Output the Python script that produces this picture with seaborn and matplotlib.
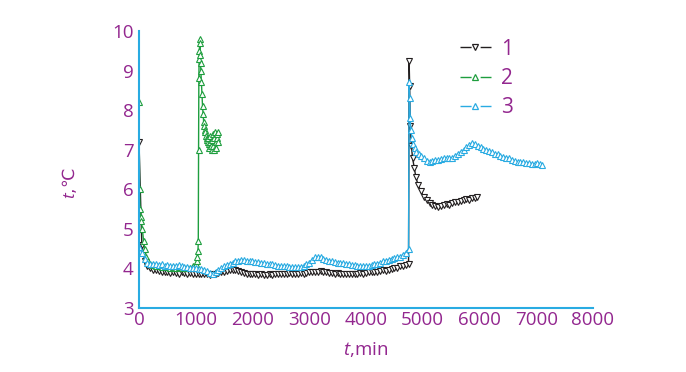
import numpy as np
import pandas as pd
import matplotlib
matplotlib.use("Agg")
import matplotlib.pyplot as plt
import seaborn as sns
from matplotlib.lines import Line2D

# --------------------------------------------------------------------
# DATA
# --------------------------------------------------------------------
STEP = 50  # logging interval, min

# series 1 (black): flat part 0..4750 every 50 min
s1_flat = [7.2, 4.6, 4.2, 4.05, 4.0, 3.97, 3.95, 3.93, 3.92, 3.9,
           3.9, 3.88, 3.9, 3.89, 3.87, 3.9, 3.88, 3.87, 3.88, 3.86,
           3.87, 3.86, 3.85, 3.86, 3.85, 3.84, 3.86, 3.87, 3.88, 3.9,
           3.92, 3.93, 3.95, 3.96, 3.95, 3.93, 3.9, 3.88, 3.87, 3.86,
           3.85, 3.86, 3.84, 3.85, 3.83, 3.84, 3.85, 3.84, 3.85, 3.86,
           3.85, 3.87, 3.86, 3.88, 3.87, 3.86, 3.87, 3.88, 3.87, 3.89,
           3.9, 3.91, 3.9, 3.92, 3.93, 3.91, 3.9, 3.89, 3.88, 3.87,
           3.88, 3.87, 3.86, 3.87, 3.86, 3.85, 3.86, 3.87, 3.88, 3.87,
           3.88, 3.9, 3.91, 3.9, 3.92, 3.93, 3.95, 3.94, 3.96, 3.98,
           4.0, 4.02, 4.05, 4.07, 4.08, 4.1]
s1_jump_t = [4760, 4770, 4780, 4800, 4820, 4850, 4880, 4920, 4970, 5020,
             5070, 5120, 5170, 5220, 5270, 5320, 5370, 5420, 5470, 5520,
             5570, 5620, 5670, 5720, 5770, 5820, 5870, 5920, 5950]
s1_jump_v = [9.25, 8.6, 7.6, 7.1, 6.8, 6.55, 6.3, 6.1, 5.95, 5.8,
             5.72, 5.65, 5.6, 5.58, 5.55, 5.57, 5.6, 5.62, 5.6, 5.65,
             5.68, 5.67, 5.7, 5.72, 5.75, 5.74, 5.77, 5.78, 5.8]

# series 2 (green)
s2_t = [0, 10, 20, 30, 40, 60, 80, 100, 130, 160,
        200, 250, 300, 350, 400, 450, 500, 550, 600, 650,
        700, 750, 800, 850, 900, 950, 1000, 1020, 1030, 1040,
        1045, 1050, 1055, 1060, 1065, 1070, 1075, 1080, 1085, 1090,
        1100, 1110, 1120, 1130, 1140, 1150, 1160, 1170, 1180, 1190,
        1200, 1210, 1220, 1230, 1240, 1250, 1260, 1270, 1280, 1290,
        1300, 1310, 1320, 1330, 1340, 1350, 1360, 1370, 1380, 1390, 1400]
s2_v = [8.2, 6.0, 5.5, 5.3, 5.2, 5.0, 4.7, 4.5, 4.3, 4.2,
        4.12, 4.08, 4.06, 4.05, 4.04, 4.03, 4.03, 4.02, 4.03, 4.02,
        4.03, 4.02, 4.02, 4.01, 4.02, 4.05, 4.1, 4.2, 4.3, 4.45,
        4.7, 7.0, 8.8, 9.3, 9.5, 9.8, 9.7, 9.4, 9.2, 9.0,
        8.7, 8.4, 8.1, 7.9, 7.7, 7.6, 7.5, 7.45, 7.35, 7.3,
        7.25, 7.2, 7.3, 7.15, 7.05, 7.2, 7.35, 7.1, 7.0, 7.25,
        7.4, 7.1, 7.0, 7.3, 7.45, 7.2, 7.05, 7.3, 7.4, 7.2, 7.45]

# series 3 (blue): flat part 0..4750 every 50 min
s3_flat = [4.55, 4.4, 4.25, 4.15, 4.12, 4.1, 4.1, 4.08, 4.1, 4.07,
           4.08, 4.06, 4.05, 4.07, 4.08, 4.06, 4.04, 4.03, 4.02, 4.0,
           4.0, 3.98, 3.99, 3.97, 3.93, 3.88, 3.85, 3.9, 3.97, 4.0,
           4.05, 4.08, 4.12, 4.15, 4.18, 4.2, 4.22, 4.21, 4.2, 4.19,
           4.18, 4.17, 4.16, 4.15, 4.14, 4.12, 4.11, 4.1, 4.08, 4.07,
           4.06, 4.07, 4.05, 4.04, 4.03, 4.04, 4.03, 4.04, 4.06, 4.1,
           4.15, 4.22, 4.28, 4.3, 4.28, 4.25, 4.22, 4.2, 4.18, 4.17,
           4.15, 4.14, 4.13, 4.12, 4.1, 4.09, 4.08, 4.07, 4.06, 4.05,
           4.05, 4.06, 4.08, 4.1, 4.12, 4.15, 4.18, 4.2, 4.22, 4.25,
           4.27, 4.28, 4.3, 4.35, 4.4, 4.5]
s3_jump_t = [4760, 4770, 4780, 4790, 4810, 4830, 4860, 4890, 4930, 4970,
             5020, 5070, 5120, 5170, 5220, 5270, 5320, 5370, 5420, 5470,
             5520, 5570, 5620, 5670, 5720, 5770, 5820, 5870, 5920, 5970,
             6020, 6070, 6120, 6170, 6220, 6270, 6320, 6370, 6420, 6470,
             6520, 6570, 6620, 6670, 6720, 6770, 6820, 6870, 6920, 6970,
             7020, 7070, 7100]
s3_jump_v = [8.7, 8.3, 7.8, 7.5, 7.3, 7.15, 7.05, 6.95, 6.9, 6.85,
             6.78, 6.72, 6.7, 6.72, 6.75, 6.73, 6.76, 6.78, 6.8, 6.78,
             6.8, 6.85, 6.9, 6.95, 7.0, 7.07, 7.12, 7.18, 7.15, 7.1,
             7.07, 7.03, 7.0, 6.97, 6.93, 6.9, 6.88, 6.85, 6.82, 6.8,
             6.78, 6.75, 6.72, 6.7, 6.7, 6.68, 6.66, 6.67, 6.65, 6.64,
             6.66, 6.64, 6.62]

x_ticks = [0, 1000, 2000, 3000, 4000, 5000, 6000, 7000, 8000]
y_ticks = [3, 4, 5, 6, 7, 8, 9, 10]
series_names = ["1", "2", "3"]

# --------------------------------------------------------------------
# STYLE
# --------------------------------------------------------------------
sns.set_style("white")
plt.rcParams["font.family"] = ["Open Sans", "DejaVu Sans"]
plt.rcParams["mathtext.fontset"] = "custom"
plt.rcParams["mathtext.it"] = "Open Sans:italic"
plt.rcParams["mathtext.rm"] = "DejaVu Sans"

AXIS_BLUE = "#29ABE2"
PURPLE = "#93278F"
COLORS = {"1": "#231F20", "2": "#1E9E3E", "3": "#29ABE2"}
MARKERS = {"1": "v", "2": "^", "3": "^"}

# --------------------------------------------------------------------
# BUILD LONG TABLE
# --------------------------------------------------------------------
t1 = list(range(0, STEP * len(s1_flat), STEP)) + s1_jump_t
v1 = s1_flat + s1_jump_v
t3 = list(range(0, STEP * len(s3_flat), STEP)) + s3_jump_t
v3 = s3_flat + s3_jump_v

df = pd.concat([
    pd.DataFrame({"t": t1, "v": v1, "s": "1"}),
    pd.DataFrame({"t": s2_t, "v": s2_v, "s": "2"}),
    pd.DataFrame({"t": t3, "v": v3, "s": "3"}),
], ignore_index=True)

# --------------------------------------------------------------------
# PLOT
# --------------------------------------------------------------------
fig = plt.figure(figsize=(6.86, 3.72), dpi=100)
ax = fig.add_axes([0.2026, 0.172, 0.6618, 0.7447])

for name in series_names:
    sub = df[df["s"] == name]
    sns.lineplot(data=sub, x="t", y="v", ax=ax, color=COLORS[name],
                 marker=MARKERS[name], markersize=4.5, markerfacecolor="white",
                 markeredgecolor=COLORS[name], markeredgewidth=0.8,
                 linewidth=1.0, sort=False, estimator=None, legend=False)

ax.set_xlim(0, 8000)
ax.set_ylim(3, 10)
ax.set_xticks(x_ticks)
ax.set_yticks(y_ticks)
ax.tick_params(direction="in", length=6, width=1.3, color=AXIS_BLUE,
               labelcolor=PURPLE, labelsize=13.5, pad=2)
ax.tick_params(axis="y", pad=4)
for side in ["top", "right"]:
    ax.spines[side].set_visible(False)
for side in ["left", "bottom"]:
    ax.spines[side].set_color(AXIS_BLUE)
    ax.spines[side].set_linewidth(1.5)

ax.set_xlabel("$t$,min", color=PURPLE, fontsize=13.5, labelpad=8)
# the degree sign lives only in DejaVu Sans
ax.set_ylabel("$t$,℃", color=PURPLE, fontsize=12.5, labelpad=24,
              fontfamily="DejaVu Sans")
ax.yaxis.label.set_y(0.45)

# legend: short line - marker - short line
handles = [Line2D([], [], color=COLORS[n], marker=MARKERS[n], markersize=4,
                  markerfacecolor="white", markeredgewidth=0.9, linewidth=1.0,
                  linestyle=(0, (8, 6.5)))
           for n in series_names]
leg = ax.legend(handles, series_names, loc="upper left", bbox_to_anchor=(0.665, 1.04),
                frameon=False, fontsize=15, labelspacing=0.4, handlelength=1.5,
                handletextpad=0.5)
for txt in leg.get_texts():
    txt.set_color(PURPLE)

plt.savefig("out.png", dpi=100)
plt.close()
